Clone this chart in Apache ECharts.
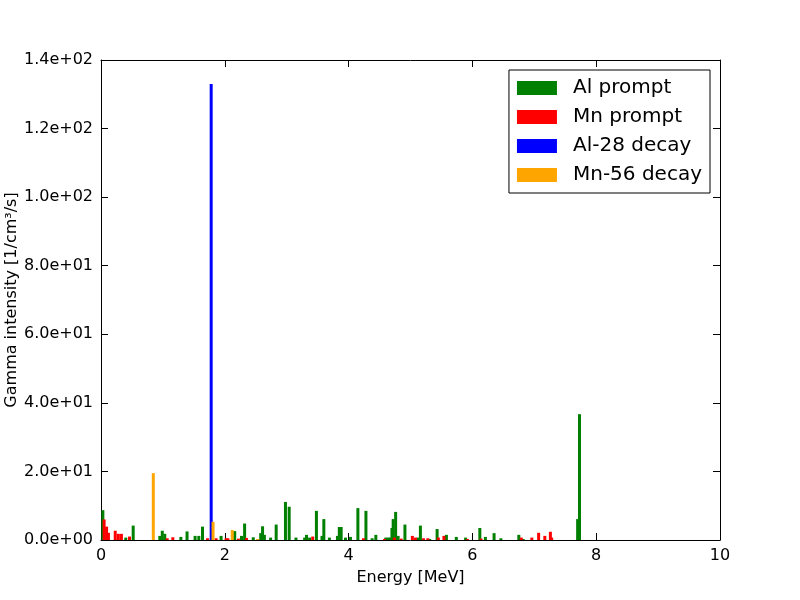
<!doctype html>
<html>
<head>
    <meta charset="utf-8">
    <title>Gamma intensity</title>
    <style>
        html, body { margin: 0; padding: 0; background: #fff; }
        #chart { width: 800px; height: 600px; }
    </style>
</head>
<body>
<div id="chart"></div>
<script src="https://cdn.jsdelivr.net/npm/echarts@6/dist/echarts.min.js"></script>
<script>
    // line energies [MeV] and intensities
    var alPromptE = [0.03, 0.40, 0.52, 0.95, 0.99, 1.03, 1.29, 1.39, 1.52, 1.58, 1.64, 1.94, 2.16, 2.27, 2.32,
        2.46, 2.58, 2.61, 2.64, 2.74, 2.83, 2.98, 3.04, 3.15, 3.29, 3.32, 3.37, 3.48, 3.57, 3.60, 3.69, 3.82,
        3.85, 3.88, 3.95, 4.03, 4.15, 4.28, 4.38, 4.44, 4.60, 4.64, 4.67, 4.70, 4.72, 4.76, 4.80, 4.91, 5.12,
        5.16, 5.31, 5.43, 5.58, 5.74, 5.89, 6.12, 6.21, 6.35, 6.46, 6.75, 6.82, 7.70, 7.73];
    var alPromptI = [8.7, 0.7, 4.2, 1.2, 2.7, 1.8, 0.9, 2.5, 1.2, 1.2, 3.9, 1.2, 2.6, 1.2, 4.8,
        0.8, 2.0, 4.0, 1.5, 0.7, 4.5, 11.1, 9.7, 0.7, 0.7, 1.5, 0.7, 8.5, 1.2, 6.1, 0.7, 1.2,
        3.8, 3.8, 0.7, 0.9, 9.3, 8.5, 0.5, 1.5, 0.7, 0.7, 0.7, 3.5, 6.1, 8.2, 1.2, 4.5, 0.7,
        4.2, 0.3, 3.2, 1.5, 0.9, 0.7, 3.5, 0.9, 2.0, 0.5, 1.5, 0.3, 6.1, 36.7];

    var mnPromptE = [0.05, 0.09, 0.12, 0.23, 0.28, 0.33, 0.46, 1.07, 1.16, 1.72, 1.86, 2.02, 2.05, 2.22, 2.35,
        3.42, 4.24, 4.58, 4.74, 4.85, 5.03, 5.08, 5.21, 5.28, 5.45, 5.54, 5.92, 6.14, 6.79, 6.96, 7.07, 7.17,
        7.26, 7.28];
    var mnPromptI = [6.0, 3.9, 2.1, 2.7, 1.8, 1.8, 1.0, 0.5, 0.8, 0.5, 0.5, 0.5, 0.5, 0.4, 0.6,
        1.0, 0.5, 0.3, 0.7, 0.4, 1.2, 0.7, 0.5, 0.5, 0.7, 1.2, 0.3, 0.4, 0.7, 0.7, 2.1, 1.2,
        2.4, 0.7];

    var al28E = [1.78];
    var al28I = [133.0];

    var mn56E = [0.845, 1.81, 2.12, 2.53];
    var mn56I = [19.5, 5.3, 2.9, 0.3];

    var seriesNames = ['Al prompt', 'Mn prompt', 'Al-28 decay', 'Mn-56 decay'];
    var seriesColors = ['#008000', '#ff0000', '#0000ff', '#ffa500'];

    function pairs(e, v) {
        var out = [];
        for (var i = 0; i < e.length; i++) out.push([e[i], v[i]]);
        return out;
    }

    // 1.4e+02 style labels
    function sci(v) {
        if (v === 0) return '0.0e+00';
        var exp = Math.floor(Math.log10(Math.abs(v)));
        var man = v / Math.pow(10, exp);
        var s = exp < 0 ? '-' : '+';
        var e = Math.abs(exp);
        return man.toFixed(1) + 'e' + s + (e < 10 ? '0' + e : e);
    }

    var font = 'DejaVu Sans';
    var chart = echarts.init(document.getElementById('chart'));
    var allData = [pairs(alPromptE, alPromptI), pairs(mnPromptE, mnPromptI), pairs(al28E, al28I), pairs(mn56E, mn56I)];

    var series = [];
    for (var k = 0; k < seriesNames.length; k++) {
        series.push({
            name: seriesNames[k],
            type: 'bar',
            xAxisIndex: 0,
            yAxisIndex: 0,
            barWidth: 3,
            barGap: '-100%',
            itemStyle: {color: seriesColors[k]},
            data: allData[k]
        });
    }

    var option = {
        animation: false,
        backgroundColor: '#fff',
        grid: {left: 101, right: 80, top: 60, bottom: 60, containLabel: false, outerBoundsMode: 'none'},
        legend: {
            data: seriesNames,
            orient: 'vertical',
            right: 90,
            top: 70,
            width: 201,
            backgroundColor: '#fff',
            borderColor: '#000',
            borderWidth: 1,
            borderRadius: 0,
            padding: [8, 8, 8, 8],
            itemWidth: 40,
            itemHeight: 14,
            itemGap: 9,
            icon: 'rect',
            textStyle: {fontFamily: font, fontSize: 20, color: '#000', padding: [0, 0, 0, 11]}
        },
        xAxis: [{
            type: 'value',
            min: 0, max: 10, interval: 2,
            name: 'Energy [MeV]',
            nameLocation: 'middle',
            nameGap: 30,
            nameMoveOverlap: false,
            nameTextStyle: {fontFamily: font, fontSize: 16, color: '#000'},
            axisLine: {show: true, onZero: false, lineStyle: {color: '#000', width: 1}},
            axisTick: {show: true, inside: true, length: 7, lineStyle: {color: '#000'}},
            axisLabel: {fontFamily: font, fontSize: 16, color: '#000', margin: 8},
            splitLine: {show: false}
        }, {
            type: 'value',
            position: 'top',
            min: 0, max: 10, interval: 2,
            axisLine: {show: true, onZero: false, lineStyle: {color: '#000', width: 1}},
            axisTick: {show: true, inside: true, length: 7, lineStyle: {color: '#000'}},
            axisLabel: {show: false},
            splitLine: {show: false}
        }],
        yAxis: [{
            type: 'value',
            min: 0, max: 140, interval: 20,
            name: 'Gamma intensity [1/cm³/s]',
            nameLocation: 'middle',
            nameGap: 81,
            nameMoveOverlap: false,
            nameTextStyle: {fontFamily: font, fontSize: 16, color: '#000'},
            axisLine: {show: true, onZero: false, lineStyle: {color: '#000', width: 1}},
            axisTick: {show: true, inside: true, length: 7, lineStyle: {color: '#000'}},
            axisLabel: {fontFamily: font, fontSize: 16, color: '#000', margin: 8, formatter: sci},
            splitLine: {show: false}
        }, {
            type: 'value',
            position: 'right',
            min: 0, max: 140, interval: 20,
            axisLine: {show: true, onZero: false, lineStyle: {color: '#000', width: 1}},
            axisTick: {show: true, inside: true, length: 7, lineStyle: {color: '#000'}},
            axisLabel: {show: false},
            splitLine: {show: false}
        }],
        series: series
    };
    chart.setOption(option);
</script>
</body>
</html>
